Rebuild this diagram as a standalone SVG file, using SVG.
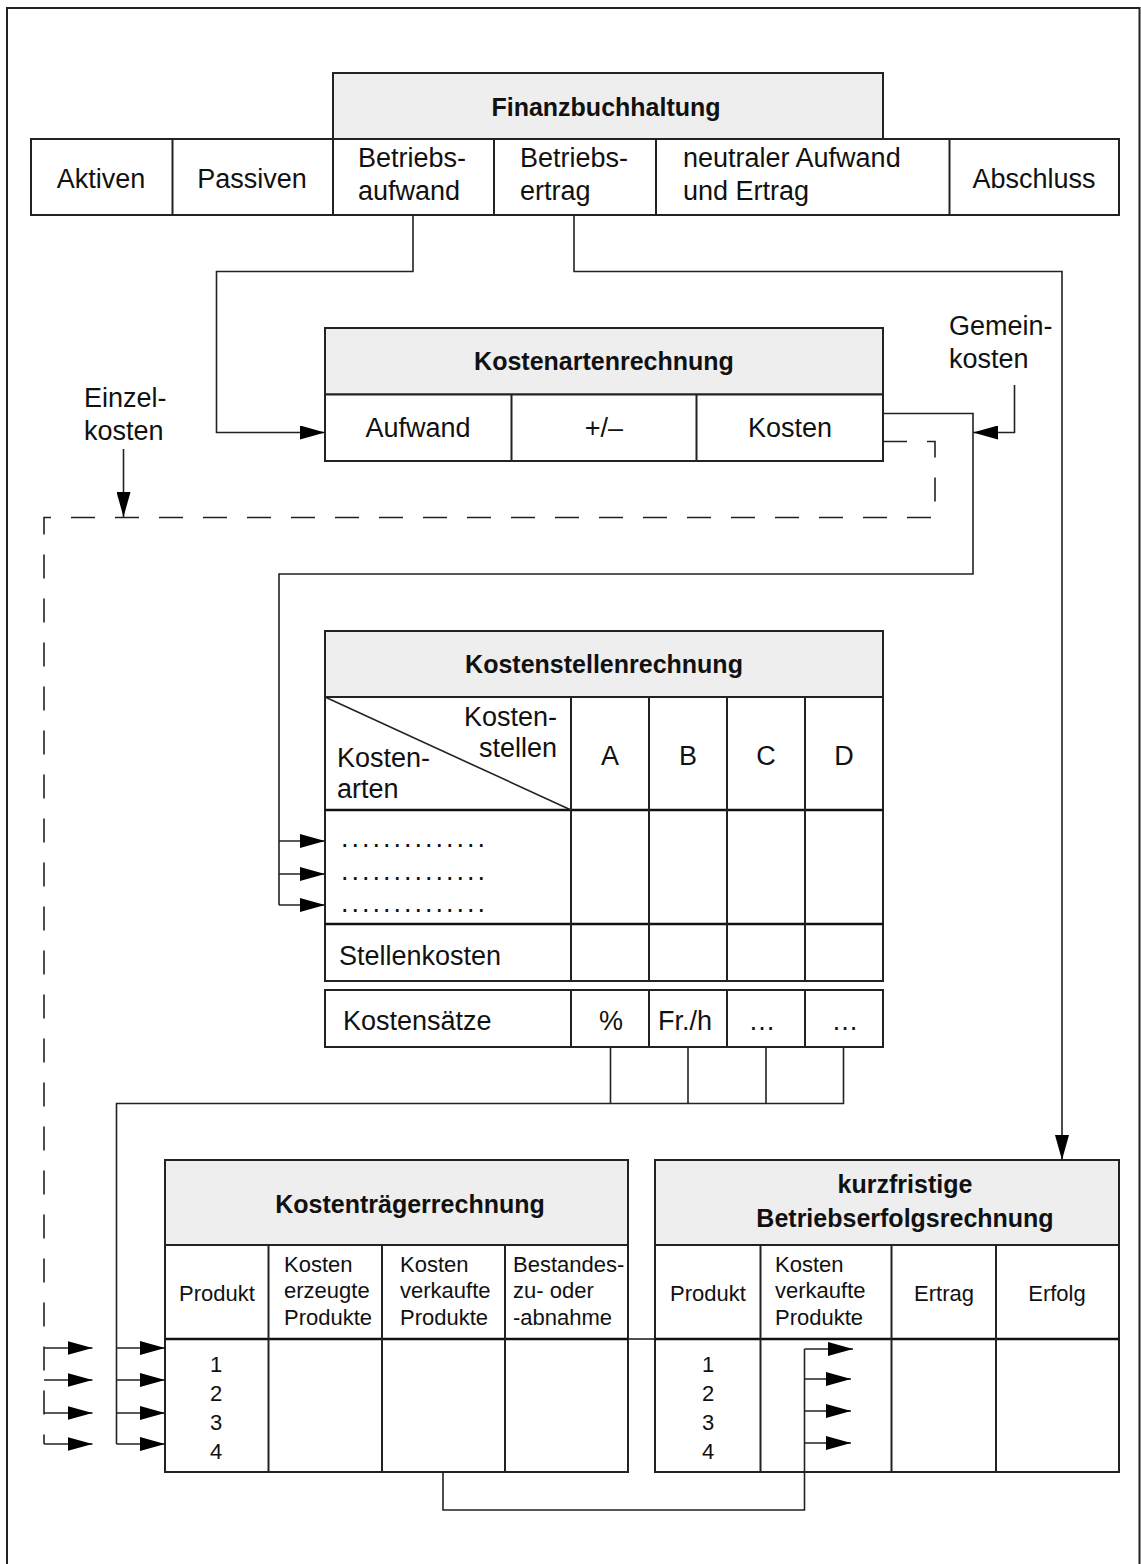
<svg xmlns="http://www.w3.org/2000/svg" width="1141" height="1564" viewBox="0 0 1141 1564">
<defs>
<style>
text{font-family:'Liberation Sans',Arial,sans-serif;fill:#111}
.t{font-size:27px}
.s{font-size:22px}
.b{font-size:25px;font-weight:bold}
.m{text-anchor:middle}
.e{text-anchor:end}
.box{fill:#fff;stroke:#222;stroke-width:2}
.hd{fill:#eeeeee;stroke:#222;stroke-width:2}
.ln{stroke:#222;stroke-width:2;fill:none}
.thick{stroke:#111;stroke-width:2.6;fill:none}
.c{stroke:#222;stroke-width:1.6;fill:none}
.ca{stroke:#222;stroke-width:1.6;fill:none;marker-end:url(#ah)}
.d{stroke:#222;stroke-width:1.6;fill:none;stroke-dasharray:24 20}
</style>
<marker id="ah" markerUnits="userSpaceOnUse" markerWidth="25" markerHeight="14" refX="25" refY="7" orient="auto">
<path d="M0,0 L25,7 L0,14 z" fill="#000"/>
</marker>
</defs>
<rect x="0" y="0" width="1141" height="1564" fill="#fff"/>
<path d="M7,1564 V8 H1139.5 V1564" fill="none" stroke="#222" stroke-width="2"/>

<g id="finanzbuchhaltung">
<rect class="hd" x="333" y="73" width="550" height="66"/>
<text class="b m" x="606" y="116">Finanzbuchhaltung</text>
<rect class="box" x="31" y="139" width="1088" height="76"/>
<line class="ln" x1="172.5" y1="139" x2="172.5" y2="215"/>
<line class="ln" x1="333" y1="139" x2="333" y2="215"/>
<line class="ln" x1="494" y1="139" x2="494" y2="215"/>
<line class="ln" x1="656" y1="139" x2="656" y2="215"/>
<line class="ln" x1="949.5" y1="139" x2="949.5" y2="215"/>
<text class="t m" x="101" y="188">Aktiven</text>
<text class="t m" x="252" y="188">Passiven</text>
<text class="t" x="358" y="167">Betriebs-</text>
<text class="t" x="358" y="200">aufwand</text>
<text class="t" x="520" y="167">Betriebs-</text>
<text class="t" x="520" y="200">ertrag</text>
<text class="t" x="683" y="167">neutraler Aufwand</text>
<text class="t" x="683" y="200">und Ertrag</text>
<text class="t m" x="1034" y="188">Abschluss</text>
</g>

<g id="kostenartenrechnung">
<rect class="hd" x="325" y="328" width="558" height="66.5"/>
<text class="b m" x="604" y="370">Kostenartenrechnung</text>
<rect class="box" x="325" y="394.5" width="558" height="66.5"/>
<line class="ln" x1="511.5" y1="394.5" x2="511.5" y2="461"/>
<line class="ln" x1="696.5" y1="394.5" x2="696.5" y2="461"/>
<text class="t m" x="418" y="437">Aufwand</text>
<text class="t m" x="604" y="437">+/–</text>
<text class="t m" x="790" y="437">Kosten</text>
</g>

<g id="label-gemeinkosten">
<text class="t" x="949" y="335">Gemein-</text>
<text class="t" x="949" y="368">kosten</text>
</g>
<g id="label-einzelkosten">
<text class="t" x="84" y="407">Einzel-</text>
<text class="t" x="84" y="440">kosten</text>
</g>

<g id="kostenstellenrechnung">
<rect class="hd" x="325" y="631" width="558" height="66"/>
<text class="b m" x="604" y="673">Kostenstellenrechnung</text>
<rect class="box" x="325" y="697" width="558" height="284"/>
<line class="thick" x1="325" y1="810" x2="883" y2="810"/>
<line class="thick" x1="325" y1="924" x2="883" y2="924"/>
<line class="ln" x1="571" y1="697" x2="571" y2="981"/>
<line class="ln" x1="649" y1="697" x2="649" y2="981"/>
<line class="ln" x1="727" y1="697" x2="727" y2="981"/>
<line class="ln" x1="805" y1="697" x2="805" y2="981"/>
<line class="c" x1="325" y1="697" x2="571" y2="810"/>
<text class="t e" x="557" y="726">Kosten-</text>
<text class="t e" x="557" y="757">stellen</text>
<text class="t" x="337" y="767">Kosten-</text>
<text class="t" x="337" y="798">arten</text>
<text class="t m" x="610" y="765">A</text>
<text class="t m" x="688" y="765">B</text>
<text class="t m" x="766" y="765">C</text>
<text class="t m" x="844" y="765">D</text>
<text class="t" x="341" y="847" letter-spacing="3">..............</text>
<text class="t" x="341" y="880" letter-spacing="3">..............</text>
<text class="t" x="341" y="912" letter-spacing="3">..............</text>
<text class="t" x="339" y="965">Stellenkosten</text>
<rect class="box" x="325" y="990" width="558" height="57"/>
<line class="ln" x1="571" y1="990" x2="571" y2="1047"/>
<line class="ln" x1="649" y1="990" x2="649" y2="1047"/>
<line class="ln" x1="727" y1="990" x2="727" y2="1047"/>
<line class="ln" x1="805" y1="990" x2="805" y2="1047"/>
<text class="t" x="343" y="1030">Kostensätze</text>
<text class="t m" x="611" y="1030">%</text>
<text class="t m" x="685" y="1030">Fr./h</text>
<text class="t m" x="762" y="1030">…</text>
<text class="t m" x="845" y="1030">…</text>
</g>

<g id="kostentraegerrechnung">
<rect class="hd" x="165" y="1160" width="463" height="85"/>
<text class="b m" x="410" y="1213">Kostenträgerrechnung</text>
<rect class="box" x="165" y="1245" width="463" height="227"/>
<line class="thick" x1="165" y1="1339" x2="628" y2="1339"/>
<line class="ln" x1="268.5" y1="1245" x2="268.5" y2="1472"/>
<line class="ln" x1="382" y1="1245" x2="382" y2="1472"/>
<line class="ln" x1="505" y1="1245" x2="505" y2="1472"/>
<text class="s m" x="217" y="1301">Produkt</text>
<text class="s" x="284" y="1272">Kosten</text>
<text class="s" x="284" y="1298">erzeugte</text>
<text class="s" x="284" y="1325">Produkte</text>
<text class="s" x="400" y="1272">Kosten</text>
<text class="s" x="400" y="1298">verkaufte</text>
<text class="s" x="400" y="1325">Produkte</text>
<text class="s" x="513" y="1272">Bestandes-</text>
<text class="s" x="513" y="1298">zu- oder</text>
<text class="s" x="513" y="1325">-abnahme</text>
<text class="s m" x="216" y="1372">1</text>
<text class="s m" x="216" y="1401">2</text>
<text class="s m" x="216" y="1430">3</text>
<text class="s m" x="216" y="1459">4</text>
</g>

<g id="betriebserfolgsrechnung">
<rect class="hd" x="655" y="1160" width="464" height="85"/>
<text class="b m" x="905" y="1193">kurzfristige</text>
<text class="b m" x="905" y="1227">Betriebserfolgsrechnung</text>
<rect class="box" x="655" y="1245" width="464" height="227"/>
<line class="thick" x1="655" y1="1339" x2="1119" y2="1339"/>
<line class="ln" x1="760.5" y1="1245" x2="760.5" y2="1472"/>
<line class="ln" x1="891.5" y1="1245" x2="891.5" y2="1472"/>
<line class="ln" x1="996" y1="1245" x2="996" y2="1472"/>
<text class="s m" x="708" y="1301">Produkt</text>
<text class="s" x="775" y="1272">Kosten</text>
<text class="s" x="775" y="1298">verkaufte</text>
<text class="s" x="775" y="1325">Produkte</text>
<text class="s m" x="944" y="1301">Ertrag</text>
<text class="s m" x="1057" y="1301">Erfolg</text>
<text class="s m" x="708" y="1372">1</text>
<text class="s m" x="708" y="1401">2</text>
<text class="s m" x="708" y="1430">3</text>
<text class="s m" x="708" y="1459">4</text>
</g>

<g id="connectors">
<path class="ca" d="M413,215 V271.5 H216.5 V432.5 H325"/>
<path class="ca" d="M574,215 V271.5 H1062 V1160"/>
<path class="ca" d="M1014.5,385 V432.5 H973"/>
<path class="ca" d="M123.5,449 V517"/>
<path class="d" d="M883,441.5 H935 V517.5 H44 V1444"/>
<path class="c" d="M883,413.5 H973 V574 H279 V905"/>
<path class="ca" d="M279,841 H325"/>
<path class="ca" d="M279,874 H325"/>
<path class="ca" d="M279,905 H325"/>
<path class="c" d="M610.5,1047 V1103.5 M688,1047 V1103.5 M766,1047 V1103.5 M843.5,1047 V1103.5 H116.5 V1444"/>
<path class="ca" d="M116.5,1348 H165"/>
<path class="ca" d="M116.5,1380 H165"/>
<path class="ca" d="M116.5,1413 H165"/>
<path class="ca" d="M116.5,1444 H165"/>
<path class="ca" d="M44,1348 H92.5"/>
<path class="ca" d="M44,1380 H92.5"/>
<path class="ca" d="M44,1413 H92.5"/>
<path class="ca" d="M44,1444 H92.5"/>
<path class="c" d="M443,1472 V1510 H804.5 V1349"/>
<path class="ca" d="M804.5,1349 H853"/>
<path class="ca" d="M804.5,1379 H851"/>
<path class="ca" d="M804.5,1411 H851"/>
<path class="ca" d="M804.5,1443 H851"/>
<line class="c" x1="628" y1="1339" x2="655" y2="1339"/>
</g>
</svg>
